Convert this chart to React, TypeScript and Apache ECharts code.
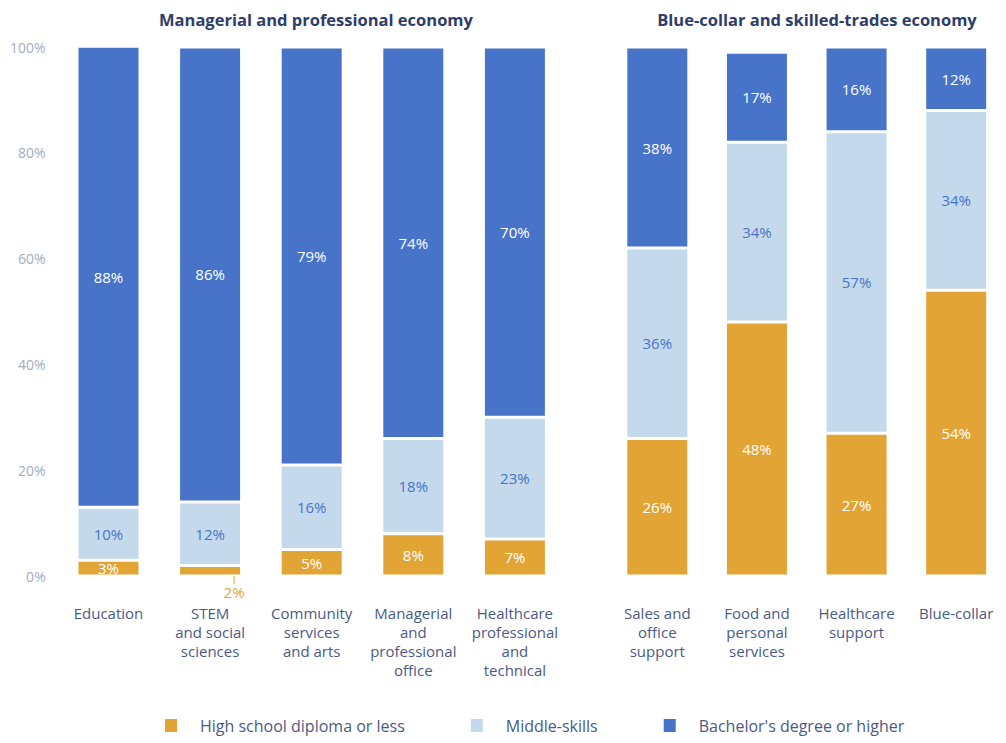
import React, { useEffect, useRef } from "react";
import * as echarts from "echarts";

const leftTitle = "Managerial and professional economy";
const rightTitle = "Blue-collar and skilled-trades economy";

const leftCategories = [
  "Education",
  "STEM\nand social\nsciences",
  "Community\nservices\nand arts",
  "Managerial\nand\nprofessional\noffice",
  "Healthcare\nprofessional\nand\ntechnical",
];
const rightCategories = [
  "Sales and\noffice\nsupport",
  "Food and\npersonal\nservices",
  "Healthcare\nsupport",
  "Blue-collar",
];

const seriesNames = ["High school diploma or less", "Middle-skills", "Bachelor's degree or higher"];

const leftHighSchool = [3, 2, 5, 8, 7];
const leftMiddle = [10, 12, 16, 18, 23];
const leftBachelor = [88, 86, 79, 74, 70];

const rightHighSchool = [26, 48, 27, 54];
const rightMiddle = [36, 34, 57, 34];
const rightBachelor = [38, 17, 16, 12];

const yTicks = [0, 20, 40, 60, 80, 100];

const ORANGE = "#e2a434";
const LIGHT = "#c5d9ec";
const DARK = "#4774c8";
const NAVY = "#2e3d68";
const SLATE = "#4b5a84";
const GREY = "#a3abc0";
const FONT = "'Open Sans', 'Noto Sans', sans-serif";

export default function App() {
  const ref = useRef<HTMLDivElement>(null);

  useEffect(() => {
    if (!ref.current) return;
    const chart = echarts.init(ref.current, undefined, { renderer: "svg" });

    const labelBase = {
      show: true,
      position: "inside",
      fontFamily: FONT,
      fontSize: 15,
      fontWeight: 500,
      formatter: (p: any) => `${p.value}%`,
    };
    const itemBorder = { borderColor: "#ffffff", borderWidth: 1.5 };

    const mk = (
      name: string,
      data: any[],
      color: string,
      labelColor: string,
      axisIdx: number,
      extra: any = {}
    ) => ({
      type: "bar",
      name,
      stack: axisIdx === 0 ? "left" : "right",
      xAxisIndex: axisIdx,
      yAxisIndex: axisIdx,
      barWidth: 63,
      data,
      itemStyle: { color, ...itemBorder },
      label: { ...labelBase, color: labelColor },
      ...extra,
    });

    const leftHS = leftHighSchool.map((v, i) =>
      i === 1
        ? {
            value: v,
            label: { position: "bottom", color: ORANGE, distance: 6 },
            labelLine: { show: true, lineStyle: { color: ORANGE, width: 1 } },
          }
        : v
    );

    const titleStyle = { fontFamily: FONT, fontSize: 16.5, fontWeight: "bold", color: NAVY };

    const option: any = {
      animation: false,
      backgroundColor: "#ffffff",
      title: [
        { text: leftTitle, left: 311, top: 6, textAlign: "center", textStyle: titleStyle },
        { text: rightTitle, left: 812, top: 6, textAlign: "center", textStyle: titleStyle },
      ],
      legend: {
        left: 163,
        top: 717,
        padding: 0,
        icon: "rect",
        itemWidth: 14,
        itemHeight: 15,
        itemGap: 64,
        data: seriesNames,
        formatter: (name: string) => `{s|}${name}`,
        textStyle: {
          fontFamily: FONT,
          fontSize: 16,
          color: SLATE,
          rich: { s: { width: 17 } },
        },
      },
      grid: [
        { left: 57.7, top: 47, width: 508, height: 529 },
        { left: 607.5, top: 47, width: 404, height: 529 },
      ],
      xAxis: [0, 1].map((i) => ({
        type: "category",
        gridIndex: i,
        data: i === 0 ? leftCategories : rightCategories,
        axisLine: { show: false },
        axisTick: { show: false },
        axisLabel: {
          interval: 0,
          margin: 27,
          fontFamily: FONT,
          fontSize: 15,
          lineHeight: 19,
          verticalAlign: "top",
          color: SLATE,
        },
      })),
      yAxis: [0, 1].map((i) => ({
        type: "value",
        gridIndex: i,
        min: yTicks[0],
        max: yTicks[yTicks.length - 1],
        interval: yTicks[1] - yTicks[0],
        splitLine: { show: false },
        axisLine: { show: false },
        axisTick: { show: false },
        axisLabel: {
          show: i === 0,
          margin: 12,
          fontFamily: FONT,
          fontSize: 14,
          color: GREY,
          formatter: (v: number) => `${v}%`,
          padding: [6, 0, 0, 0],
        },
      })),
      series: [
        mk(seriesNames[0], leftHS, ORANGE, "#ffffff", 0, {
          labelLayout: (p: any) => (p.dataIndex === 1 ? { dx: 24, dy: 2 } : {}),
        }),
        mk(seriesNames[1], leftMiddle, LIGHT, DARK, 0),
        mk(seriesNames[2], leftBachelor, DARK, "#ffffff", 0),
        mk(seriesNames[0], rightHighSchool, ORANGE, "#ffffff", 1),
        mk(seriesNames[1], rightMiddle, LIGHT, DARK, 1),
        mk(seriesNames[2], rightBachelor, DARK, "#ffffff", 1),
      ],
    };

    chart.setOption(option);
    return () => chart.dispose();
  }, []);

  return (
    <div
      ref={ref}
      style={{ position: "absolute", left: 0, top: 0, width: 1006, height: 743, background: "#fff" }}
    />
  );
}
